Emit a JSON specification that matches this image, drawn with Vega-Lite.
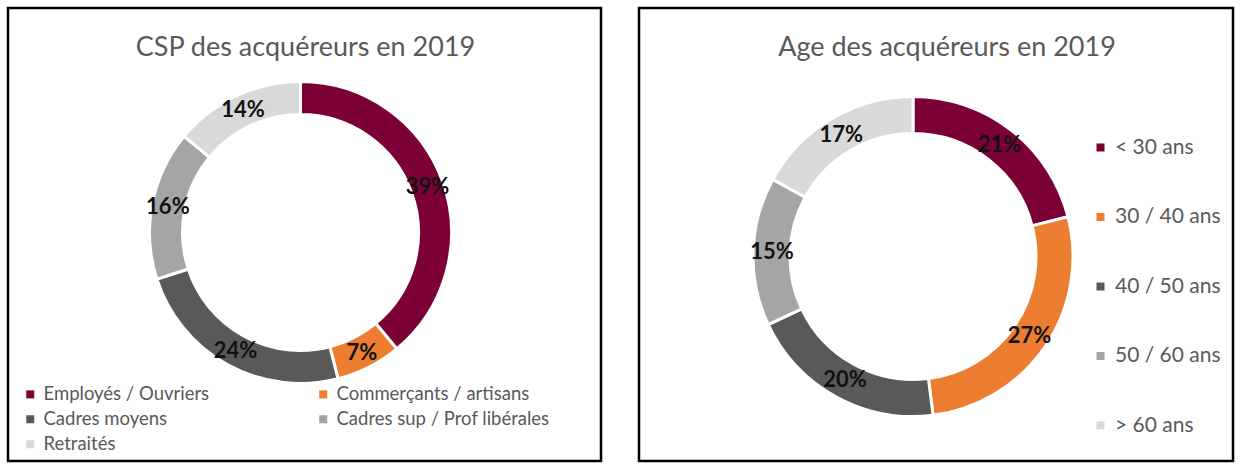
{
  "$schema": "https://vega.github.io/schema/vega-lite/v6.json",
  "padding": {"left": 6, "top": 6, "right": 6, "bottom": 6},
  "background": "white",
  "spacing": 34,
  "config": {
    "view": {"stroke": "black", "strokeWidth": 2.5},
    "font": "Lato",
    "title": {"font": "Lato", "fontSize": 27, "fontWeight": "normal", "color": "#595959", "frame": "group", "offset": -54},
    "legend": {"labelFont": "Lato", "labelColor": "#595959", "symbolType": "square", "symbolSize": 64, "symbolStrokeWidth": 0, "title": null, "labelLimit": 400}
  },
  "resolve": {"scale": {"color": "independent", "theta": "independent"}, "legend": {"color": "independent"}},
  "hconcat": [
    {
      "width": 593,
      "height": 453,
      "view": {"stroke": "black", "strokeWidth": 2.5},
      "title": {"text": "CSP des acquéreurs en 2019", "dx": 1},
      "data": {"values": [
        {"cat": "Employés / Ouvriers", "pct": 0.39, "ord": 1},
        {"cat": "Commerçants / artisans", "pct": 0.07, "ord": 2},
        {"cat": "Cadres moyens", "pct": 0.24, "ord": 3},
        {"cat": "Cadres sup / Prof libérales", "pct": 0.16, "ord": 4},
        {"cat": "Retraités", "pct": 0.14, "ord": 5}
      ]},
      "encoding": {
        "theta": {"field": "pct", "type": "quantitative", "stack": true},
        "order": {"field": "ord", "type": "quantitative"}
      },
      "layer": [
        {
          "mark": {"type": "arc", "outerRadius": 151, "innerRadius": 118, "stroke": "white", "strokeWidth": 3, "xOffset": -4, "yOffset": -2},
          "encoding": {
            "color": {
              "field": "cat", "type": "nominal",
              "scale": {"domain": ["Employés / Ouvriers", "Commerçants / artisans", "Cadres moyens", "Cadres sup / Prof libérales", "Retraités"],
                        "range": ["#7B0036", "#ED7D31", "#595959", "#A5A5A5", "#D9D9D9"]},
              "legend": {"orient": "none", "legendX": 13, "legendY": 377, "columns": 2, "columnPadding": 104, "rowPadding": 6, "direction": "horizontal", "labelFontSize": 18.5}
            }
          }
        },
        {
          "mark": {"type": "text", "radius": 135, "font": "Lato", "fontWeight": "bold", "fontSize": 22, "color": "#111111", "xOffset": -4, "yOffset": -2},
          "encoding": {
            "text": {"field": "pct", "type": "quantitative", "format": ".0%"},
            "detail": {"field": "cat"}
          }
        }
      ]
    },
    {
      "width": 594,
      "height": 453,
      "view": {"stroke": "black", "strokeWidth": 2.5},
      "title": {"text": "Age des acquéreurs en 2019", "dx": 11},
      "data": {"values": [
        {"cat": "< 30 ans", "pct": 0.21, "ord": 1},
        {"cat": "30 / 40 ans", "pct": 0.27, "ord": 2},
        {"cat": "40 / 50 ans", "pct": 0.20, "ord": 3},
        {"cat": "50 / 60 ans", "pct": 0.15, "ord": 4},
        {"cat": "> 60 ans", "pct": 0.17, "ord": 5}
      ]},
      "encoding": {
        "theta": {"field": "pct", "type": "quantitative", "stack": true},
        "order": {"field": "ord", "type": "quantitative"}
      },
      "layer": [
        {
          "mark": {"type": "arc", "outerRadius": 160, "innerRadius": 123, "stroke": "white", "strokeWidth": 3, "xOffset": -23, "yOffset": 22},
          "encoding": {
            "color": {
              "field": "cat", "type": "nominal",
              "scale": {"domain": ["< 30 ans", "30 / 40 ans", "40 / 50 ans", "50 / 60 ans", "> 60 ans"],
                        "range": ["#7B0036", "#ED7D31", "#595959", "#A5A5A5", "#D9D9D9"]},
              "legend": {"orient": "none", "legendX": 451, "legendY": 129, "rowPadding": 47.5, "labelFontSize": 21}
            }
          }
        },
        {
          "mark": {"type": "text", "radius": 141, "font": "Lato", "fontWeight": "bold", "fontSize": 22, "color": "#111111", "xOffset": -23, "yOffset": 22},
          "encoding": {
            "text": {"field": "pct", "type": "quantitative", "format": ".0%"},
            "detail": {"field": "cat"}
          }
        }
      ]
    }
  ]
}
